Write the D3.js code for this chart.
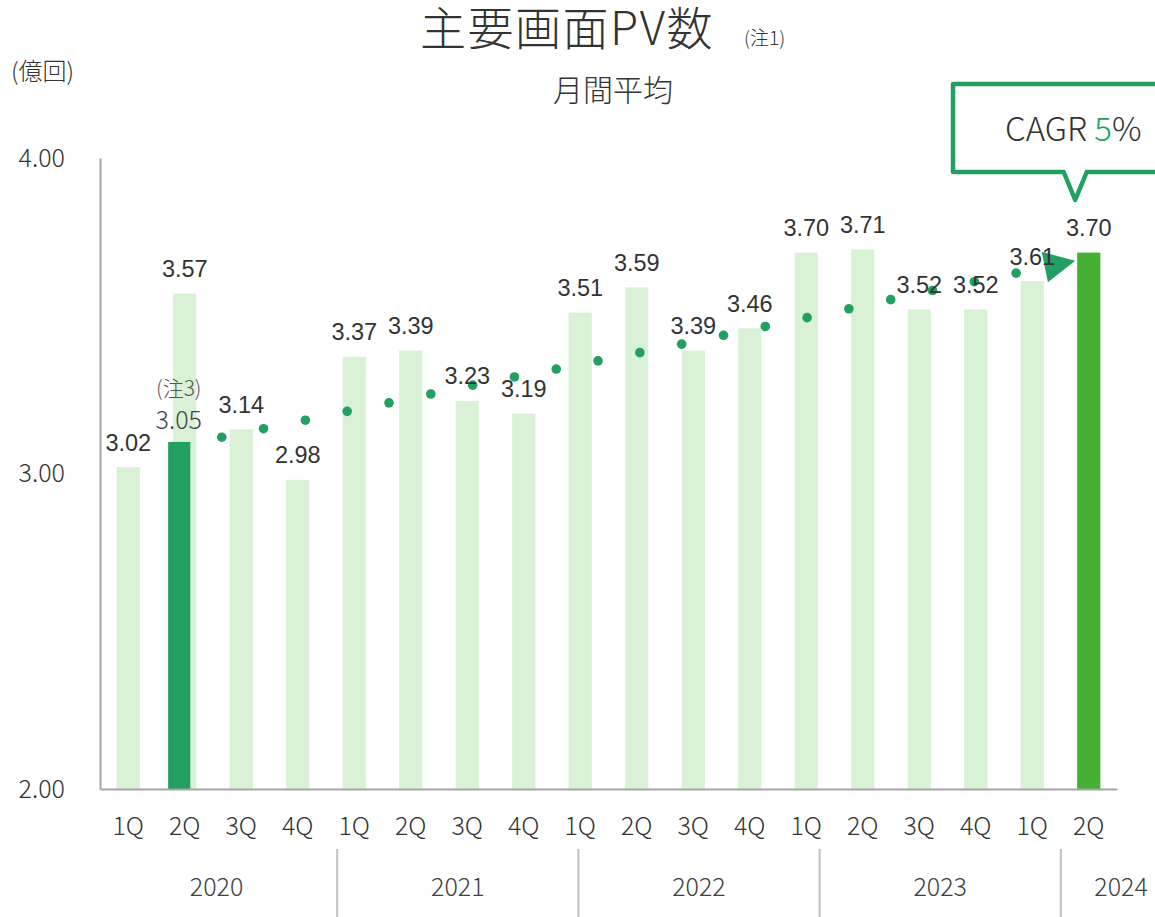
<!DOCTYPE html>
<html>
<head>
<meta charset="utf-8">
<script src="https://cdn.jsdelivr.net/npm/d3@7/dist/d3.min.js"></script>
<style>
  html, body { margin: 0; padding: 0; background: #ffffff; }
  svg { display: block; }
  .jp { font-family: "Noto Sans CJK JP", "Noto Sans", sans-serif; font-weight: 300; }
  .num { font-family: "Liberation Sans", Arial, sans-serif; }
</style>
</head>
<body>
<svg id="chart" width="1155" height="917"></svg>
<script>
// ---------- data ----------
const quarterLabels = ["1Q","2Q","3Q","4Q","1Q","2Q","3Q","4Q","1Q","2Q","3Q","4Q","1Q","2Q","3Q","4Q","1Q","2Q"];
const years = ["2020","2021","2022","2023","2024"];
const quartersPerYear = [4, 4, 4, 4, 2];
const pvValues = [3.02, 3.57, 3.14, 2.98, 3.37, 3.39, 3.23, 3.19, 3.51, 3.59, 3.39, 3.46, 3.70, 3.71, 3.52, 3.52, 3.61, 3.70];
const adjustedIndex = 1;          // 2020 2Q (注3)
const adjustedBarValue = 3.10;
const adjustedLabel = "3.05";
const adjustedNote = "(注3)";
const latestIndex = 17;           // 2024 2Q highlighted
// CAGR trend dots
const trendValues = [3.115, 3.142, 3.169, 3.197, 3.224, 3.252, 3.280, 3.306, 3.331, 3.357,
                     3.383, 3.410, 3.438, 3.466, 3.494, 3.522, 3.551, 3.580, 3.608, 3.635];
const trendStartQ = 1.655;        // position in quarter units
const trendStepQ = 0.74;
const trendArrowTip = { q: 16.76, v: 3.674 };
const yTicks = [2, 3, 4];
const titleText = "主要画面PV数";
const titleNote = "(注1)";
const subtitleText = "月間平均";
const unitText = "(億回)";
const cagrValue = "5";

// ---------- colours ----------
const lightGreen = "#d9f2d5";
const darkGreen = "#21a062";
const brightGreen = "#45b035";
const textDark = "#333333";
const axisGray = "#a6a6a6";

const svg = d3.select("#chart");

// ---------- scales ----------
const x = d3.scaleBand().domain(d3.range(pvValues.length)).range([100, 1117])
  .paddingInner(0.59).paddingOuter(0.295);
const xq = d3.scaleLinear().domain([0, pvValues.length - 1])
  .range([x(0) + x.bandwidth() / 2, x(pvValues.length - 1) + x.bandwidth() / 2]);
const y = d3.scaleLinear().domain([2, 4]).range([789, 158]);
const yearScale = d3.scaleLinear().domain([0, 18]).range([96, 96 + 60.3 * 18]);

// ---------- titles ----------
svg.append("text").attr("class", "jp").attr("x", 567).attr("y", 45)
  .attr("text-anchor", "middle").attr("font-size", 46).attr("letter-spacing", 1.5)
  .attr("fill", textDark).text(titleText);
svg.append("text").attr("class", "jp").attr("x", 744).attr("y", 45)
  .attr("font-size", 19).attr("fill", textDark).text(titleNote);
svg.append("text").attr("class", "jp").attr("x", 613).attr("y", 101)
  .attr("text-anchor", "middle").attr("font-size", 30).attr("fill", textDark).text(subtitleText);
svg.append("text").attr("class", "jp").attr("x", 11).attr("y", 80)
  .attr("font-size", 24).attr("fill", textDark).text(unitText);

// ---------- bars ----------
svg.append("g").selectAll("rect").data(pvValues).join("rect")
  .attr("x", (d, i) => x(i)).attr("width", x.bandwidth())
  .attr("y", d => y(d)).attr("height", d => y(2) - y(d))
  .attr("fill", lightGreen);

// adjusted 2020 2Q bar (dark green, offset left)
svg.append("rect")
  .attr("x", x(adjustedIndex) - 5).attr("width", x.bandwidth() - 1)
  .attr("y", y(adjustedBarValue)).attr("height", y(2) - y(adjustedBarValue))
  .attr("fill", darkGreen);

// latest bar highlight
svg.append("rect")
  .attr("x", x(latestIndex)).attr("width", x.bandwidth())
  .attr("y", y(pvValues[latestIndex])).attr("height", y(2) - y(pvValues[latestIndex]))
  .attr("fill", brightGreen);

// ---------- trend dots + arrow ----------
const trendPts = trendValues.map((v, k) => [xq(trendStartQ + trendStepQ * k), y(v)]);
svg.append("g").selectAll("circle").data(trendPts).join("circle")
  .attr("cx", d => d[0]).attr("cy", d => d[1]).attr("r", 4.8).attr("fill", darkGreen);
{
  const tip = [xq(trendArrowTip.q), y(trendArrowTip.v)];
  const a = trendPts[trendPts.length - 2], b = trendPts[trendPts.length - 1];
  const ang = Math.atan2(b[1] - a[1], b[0] - a[0]);
  const len = 31, half = 15.5;
  const bx = tip[0] - len * Math.cos(ang), by = tip[1] - len * Math.sin(ang);
  const p1 = [bx + half * Math.sin(ang), by - half * Math.cos(ang)];
  const p2 = [bx - half * Math.sin(ang), by + half * Math.cos(ang)];
  svg.append("path").attr("d", `M${tip}L${p1}L${p2}Z`).attr("fill", darkGreen);
}

// ---------- value labels ----------
svg.append("g").selectAll("text").data(pvValues).join("text")
  .attr("class", "num")
  .attr("x", (d, i) => x(i) + x.bandwidth() / 2)
  .attr("y", d => y(d) - 16.5)
  .attr("text-anchor", "middle").attr("font-size", 23.5).attr("fill", textDark)
  .text(d => d3.format(".2f")(d));

svg.append("text").attr("class", "jp")
  .attr("x", x(adjustedIndex) + x.bandwidth() / 2 - 6).attr("y", y(adjustedBarValue) - 13)
  .attr("text-anchor", "middle").attr("font-size", 25).attr("fill", "#444").text(adjustedLabel);
svg.append("text").attr("class", "jp")
  .attr("x", x(adjustedIndex) + x.bandwidth() / 2 - 6).attr("y", y(adjustedBarValue) - 46)
  .attr("text-anchor", "middle").attr("font-size", 21).attr("fill", "#555").text(adjustedNote);

// ---------- axes ----------
const yAxis = svg.append("g").attr("transform", "translate(100,0)")
  .call(d3.axisLeft(y).tickValues(yTicks).tickFormat(d3.format(".2f")).tickSize(0).tickPadding(35));
yAxis.select(".domain").attr("stroke", axisGray).attr("stroke-width", 2);
yAxis.selectAll("text").attr("class", "jp").attr("font-size", 25).attr("fill", textDark)
  .attr("font-family", null);

const xAxis = svg.append("g").attr("transform", `translate(0,${y(2)})`)
  .call(d3.axisBottom(x).tickFormat(i => quarterLabels[i]).tickSize(0).tickPadding(28));
xAxis.select(".domain").attr("stroke", axisGray).attr("stroke-width", 2);
xAxis.selectAll("text").attr("class", "jp").attr("font-size", 25).attr("fill", textDark)
  .attr("font-family", null);

// ---------- year row ----------
const yearStarts = d3.cumsum([0, ...quartersPerYear]);
svg.append("g").selectAll("line").data(yearStarts.slice(1, years.length)).join("line")
  .attr("x1", d => yearScale(d)).attr("x2", d => yearScale(d))
  .attr("y1", 849).attr("y2", 917).attr("stroke", "#bfbfbf").attr("stroke-width", 2);
svg.append("g").selectAll("text").data(years).join("text")
  .attr("class", "jp")
  .attr("x", (d, i) => yearScale(yearStarts[i] + quartersPerYear[i] / 2))
  .attr("y", 896).attr("text-anchor", "middle").attr("font-size", 25).attr("fill", "#404040")
  .text(d => d);

// ---------- CAGR callout ----------
{
  const tipX = xq(trendArrowTip.q);
  const left = 953, top = 84, bottom = 172, right = 1200, tipY = 200, hw = 11.5;
  svg.append("path")
    .attr("d", `M${right},${top}L${left},${top}L${left},${bottom}L${tipX - hw},${bottom}L${tipX},${tipY}L${tipX + hw},${bottom}L${right},${bottom}`)
    .attr("fill", "#ffffff").attr("stroke", darkGreen).attr("stroke-width", 4.5)
    .attr("stroke-linejoin", "round");
  const t = svg.append("text").attr("class", "jp").attr("x", 1005).attr("y", 141)
    .attr("font-size", 33).attr("fill", textDark);
  t.append("tspan").text("CAGR ");
  t.append("tspan").attr("fill", darkGreen).text(cagrValue);
  t.append("tspan").text("%");
}
</script>
</body>
</html>
